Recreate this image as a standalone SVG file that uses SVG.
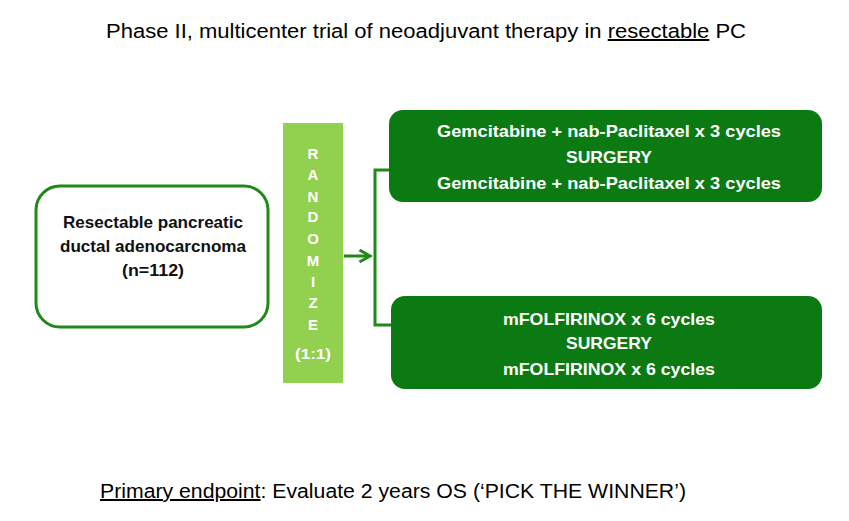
<svg xmlns="http://www.w3.org/2000/svg" width="849" height="521" viewBox="0 0 849 521">
<defs>
<style>
.t{font-family:"Liberation Sans",Arial,sans-serif;fill:#000}
.u{text-decoration:underline}
.b{font-family:"Liberation Sans",Arial,sans-serif;font-weight:bold;fill:#fff;text-anchor:middle;font-size:17px}
.lb{font-family:"Liberation Sans",Arial,sans-serif;font-weight:bold;fill:#111;text-anchor:middle;font-size:16.5px}
.rl{font-family:"Liberation Sans",Arial,sans-serif;font-weight:bold;fill:#fff;text-anchor:middle;font-size:15px}
.arm{fill:#0b7a12}
.conn{stroke:#1f8a18;stroke-width:3;fill:none}
</style>
<marker id="ah" viewBox="0 0 10 10" refX="8" refY="5" markerWidth="5" markerHeight="5" orient="auto" markerUnits="strokeWidth">
<path d="M1,1 L8,5 L1,9" fill="none" stroke="#1f8a18" stroke-width="2"/>
</marker>
</defs>
<rect width="849" height="521" fill="#fff"/>
<g id="title">
<text class="t" x="106" y="38" font-size="20" textLength="640" lengthAdjust="spacingAndGlyphs">Phase II, multicenter trial of neoadjuvant therapy in <tspan class="u">resectable</tspan> PC</text>
</g>
<g id="population">
<rect x="36" y="186" width="232" height="141" rx="24" fill="#fff" stroke="#1f8a18" stroke-width="3"/>
<text class="lb" x="153" y="228" textLength="180" lengthAdjust="spacingAndGlyphs">Resectable pancreatic</text>
<text class="lb" x="153" y="252" textLength="186" lengthAdjust="spacingAndGlyphs">ductal adenocarcnoma</text>
<text class="lb" x="153" y="276" textLength="62" lengthAdjust="spacingAndGlyphs">(n=112)</text>
</g>
<g id="randomize">
<rect x="283" y="123" width="60" height="260" fill="#92d050"/>
<text class="rl" x="313" y="159">R</text>
<text class="rl" x="313" y="180">A</text>
<text class="rl" x="313" y="202">N</text>
<text class="rl" x="313" y="222">D</text>
<text class="rl" x="313" y="244">O</text>
<text class="rl" x="313" y="266">M</text>
<text class="rl" x="313" y="287">I</text>
<text class="rl" x="313" y="308">Z</text>
<text class="rl" x="313" y="330">E</text>
<text class="rl" x="313" y="359" textLength="36" lengthAdjust="spacingAndGlyphs">(1:1)</text>
</g>
<g id="connectors">
<line class="conn" x1="344" y1="256" x2="370" y2="256" marker-end="url(#ah)"/>
<path class="conn" d="M390,170 H375 V325 H392"/>
</g>
<g id="arm1">
<rect class="arm" x="389" y="110" width="433" height="92" rx="14"/>
<text class="b" x="609" y="137" textLength="344" lengthAdjust="spacingAndGlyphs">Gemcitabine + nab-Paclitaxel x 3 cycles</text>
<text class="b" x="609" y="163" textLength="86" lengthAdjust="spacingAndGlyphs">SURGERY</text>
<text class="b" x="609" y="189" textLength="344" lengthAdjust="spacingAndGlyphs">Gemcitabine + nab-Paclitaxel x 3 cycles</text>
</g>
<g id="arm2">
<rect class="arm" x="391" y="296" width="431" height="93" rx="14"/>
<text class="b" x="609" y="325" textLength="212" lengthAdjust="spacingAndGlyphs">mFOLFIRINOX x 6 cycles</text>
<text class="b" x="609" y="349" textLength="86" lengthAdjust="spacingAndGlyphs">SURGERY</text>
<text class="b" x="609" y="375" textLength="212" lengthAdjust="spacingAndGlyphs">mFOLFIRINOX x 6 cycles</text>
</g>
<g id="endpoint">
<text class="t" x="100" y="498" font-size="20" textLength="586" lengthAdjust="spacingAndGlyphs"><tspan class="u">Primary endpoint</tspan>: Evaluate 2 years OS (‘PICK THE WINNER’)</text>
</g>
</svg>
